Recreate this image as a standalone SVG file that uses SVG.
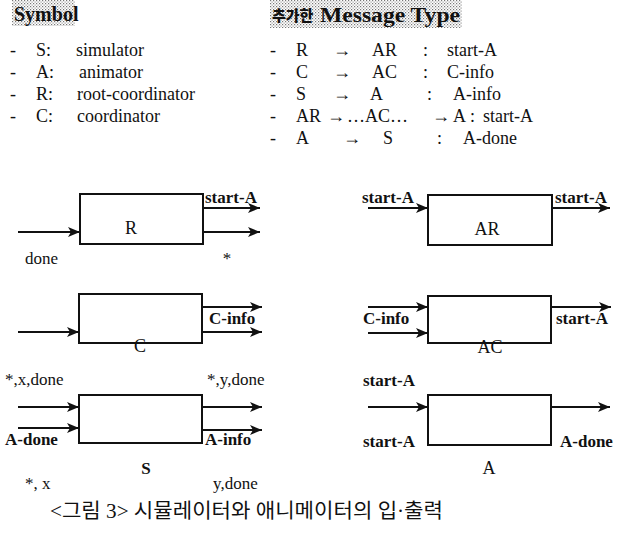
<svg xmlns="http://www.w3.org/2000/svg" width="621" height="544" viewBox="0 0 621 544">
<defs>
<pattern id="dots" width="3" height="3" patternUnits="userSpaceOnUse">
<rect width="3" height="3" fill="#ffffff"/>
<rect x="0" y="0" width="1.2" height="1.2" fill="#777"/>
<rect x="1.5" y="1.5" width="1.2" height="1.2" fill="#999"/>
</pattern>
<marker id="ah" markerUnits="userSpaceOnUse" markerWidth="14" markerHeight="12" refX="12" refY="5" orient="auto">
<path d="M0,0 L12,5 L0,10 L3,5 z" fill="#111"/>
</marker>
<style>
.t{font-family:"Liberation Serif","Times New Roman",serif;font-size:18px;fill:#111}
.b{font-family:"Liberation Serif","Times New Roman",serif;font-size:17px;font-weight:bold;fill:#111}
.n{font-family:"Liberation Serif","Times New Roman",serif;font-size:17px;fill:#111}
.h{font-family:"Liberation Serif","Noto Sans CJK KR",serif;font-size:20px;font-weight:bold;fill:#111}
.k{font-family:"Noto Sans CJK KR",sans-serif;font-size:15px;font-weight:900;fill:#111}
.box{fill:#fff;stroke:#111;stroke-width:2}
.c{stroke:#111;stroke-width:2.2;fill:none;marker-end:url(#ah)}
.cap{font-family:"Liberation Serif","Noto Sans CJK KR",serif;font-size:20px;fill:#111}
</style>
</defs>
<rect width="621" height="544" fill="#fff"/>

<g id="legend">
<rect x="12" y="0" width="63" height="26" fill="url(#dots)"/>
<text class="h" x="14" y="21">Symbol</text>
<text class="t" x="10" y="56">-</text><text class="t" x="36" y="56">S:</text><text class="t" x="76" y="56">simulator</text>
<text class="t" x="10" y="78">-</text><text class="t" x="36" y="78">A:</text><text class="t" x="79" y="78">animator</text>
<text class="t" x="10" y="100">-</text><text class="t" x="36" y="100">R:</text><text class="t" x="77" y="100">root-coordinator</text>
<text class="t" x="10" y="122">-</text><text class="t" x="36" y="122">C:</text><text class="t" x="77" y="122">coordinator</text>

<rect x="270" y="0" width="192" height="28" fill="url(#dots)"/>
<text class="k" x="272" y="21">추가한</text>
<text class="h" x="320" y="22" textLength="140" lengthAdjust="spacingAndGlyphs">Message Type</text>

<text class="t" x="270" y="56">-</text><text class="t" x="296" y="56">R</text><text class="t" x="333" y="56">→</text><text class="t" x="372" y="56">AR</text><text class="t" x="423" y="56">:</text><text class="t" x="447" y="56">start-A</text>
<text class="t" x="270" y="78">-</text><text class="t" x="296" y="78">C</text><text class="t" x="333" y="78">→</text><text class="t" x="372" y="78">AC</text><text class="t" x="423" y="78">:</text><text class="t" x="447" y="78">C-info</text>
<text class="t" x="270" y="100">-</text><text class="t" x="296" y="100">S</text><text class="t" x="333" y="100">→</text><text class="t" x="370" y="100">A</text><text class="t" x="427" y="100">:</text><text class="t" x="453" y="100">A-info</text>
<text class="t" x="270" y="122">-</text><text class="t" x="296" y="122">AR</text><text class="t" x="327" y="122">→</text><text class="t" x="347" y="122">…AC…</text><text class="t" x="432" y="122">→</text><text class="t" x="453" y="122">A</text><text class="t" x="470" y="122">:</text><text class="t" x="483" y="122">start-A</text>
<text class="t" x="270" y="144">-</text><text class="t" x="296" y="144">A</text><text class="t" x="343" y="144">→</text><text class="t" x="383" y="144">S</text><text class="t" x="437" y="144">:</text><text class="t" x="463" y="144">A-done</text>
</g>

<g id="node-R">
<rect class="box" x="80" y="194" width="123" height="50"/>
<text class="t" x="131" y="234" text-anchor="middle">R</text>
</g>
<g id="node-C">
<text class="t" x="140" y="352" text-anchor="middle">C</text>
<rect class="box" x="79" y="294" width="123" height="49" fill-opacity="0"/>
</g>
<g id="node-S">
<rect class="box" x="79" y="395" width="123" height="48"/>
<text class="b" x="146" y="474" text-anchor="middle">S</text>
</g>
<g id="node-AR">
<rect class="box" x="428" y="195" width="124" height="50"/>
<text class="t" x="487" y="235" text-anchor="middle">AR</text>
</g>
<g id="node-AC">
<text class="t" x="490" y="353" text-anchor="middle">AC</text>
<rect class="box" x="428" y="296" width="123" height="47" fill-opacity="0"/>
</g>
<g id="node-A">
<rect class="box" x="428" y="395" width="123" height="50"/>
<text class="t" x="489" y="474" text-anchor="middle">A</text>
</g>

<g id="connectors">
<line class="c" x1="18" y1="232" x2="80" y2="232"/>
<line class="c" x1="203" y1="208" x2="260" y2="208"/>
<line class="c" x1="203" y1="232" x2="260" y2="232"/>
<line class="c" x1="18" y1="332" x2="79" y2="332"/>
<line class="c" x1="202" y1="307" x2="262" y2="307"/>
<line class="c" x1="202" y1="332" x2="262" y2="332"/>
<line class="c" x1="18" y1="407" x2="79" y2="407"/>
<line class="c" x1="18" y1="428" x2="79" y2="428"/>
<line class="c" x1="202" y1="407" x2="262" y2="407"/>
<line class="c" x1="202" y1="430" x2="262" y2="430"/>
<line class="c" x1="368" y1="208" x2="428" y2="208"/>
<line class="c" x1="552" y1="208" x2="610" y2="208"/>
<line class="c" x1="368" y1="307" x2="428" y2="307"/>
<line class="c" x1="368" y1="333" x2="428" y2="333"/>
<line class="c" x1="551" y1="307" x2="611" y2="307"/>
<line class="c" x1="368" y1="407" x2="428" y2="407"/>
<line class="c" x1="551" y1="407" x2="610" y2="407"/>
</g>

<g id="connector-labels">
<text class="n" x="25" y="264">done</text>
<text class="n" x="227" y="264" text-anchor="middle">*</text>
<text class="b" x="205" y="203">start-A</text>
<text class="b" x="209" y="324">C-info</text>
<text class="n" x="5" y="385">*,x,done</text>
<text class="n" x="207" y="385">*,y,done</text>
<text class="b" x="5" y="445">A-done</text>
<text class="b" x="205" y="445">A-info</text>
<text class="b" x="362" y="203">start-A</text>
<text class="b" x="555" y="203">start-A</text>
<text class="b" x="363" y="324">C-info</text>
<text class="b" x="556" y="324">start-A</text>
<text class="b" x="363" y="386">start-A</text>
<text class="b" x="363" y="447">start-A</text>
<text class="b" x="560" y="447">A-done</text>
<text class="n" x="25" y="489" font-size="14">*, x</text>
<text class="n" x="213" y="489" font-size="14">y,done</text>
</g>

<text class="cap" x="50" y="518" textLength="393" lengthAdjust="spacingAndGlyphs">&lt;그림 3&gt; 시뮬레이터와 애니메이터의 입·출력</text>
</svg>
